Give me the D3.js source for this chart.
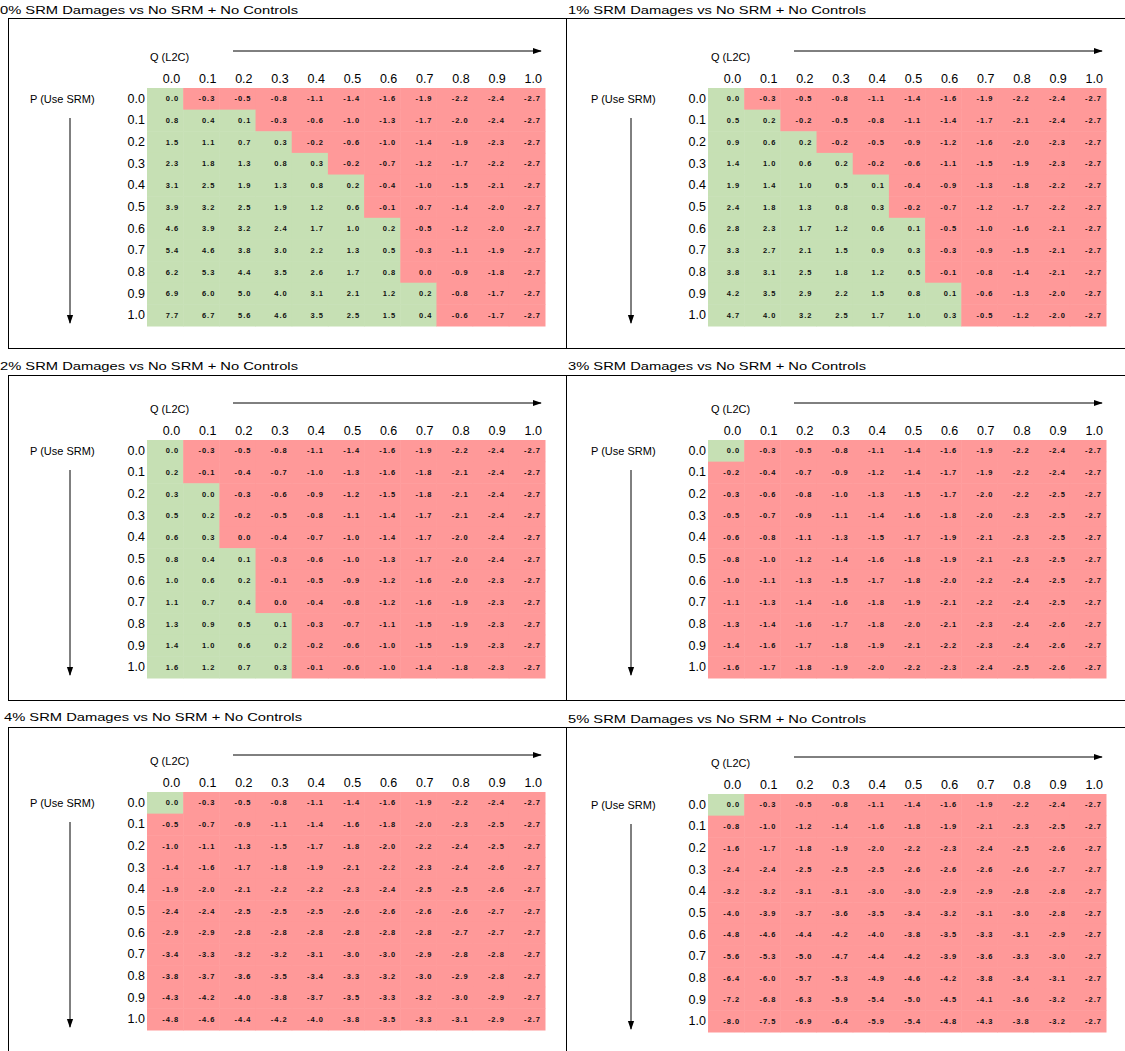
<!DOCTYPE html>
<html><head><meta charset="utf-8">
<script src="https://cdn.jsdelivr.net/npm/d3@7"></script>
<style>
html,body{margin:0;padding:0;background:#fff;}
svg text{font-family:"Liberation Sans",Arial,sans-serif;}
</style></head>
<body><svg id="chart" width="1125" height="1051"></svg>
<script>
// ---- data ----
const qLevels = [0.0,0.1,0.2,0.3,0.4,0.5,0.6,0.7,0.8,0.9,1.0];
const pLevels = [0.0,0.1,0.2,0.3,0.4,0.5,0.6,0.7,0.8,0.9,1.0];
const srmDamages = ["0%","1%","2%","3%","4%","5%"];
const titleSuffix = " SRM Damages vs No SRM + No Controls";
const qLabel = "Q (L2C)";
const pLabel = "P (Use SRM)";

const values0 = [
 [0.0,-0.3,-0.5,-0.8,-1.1,-1.4,-1.6,-1.9,-2.2,-2.4,-2.7],
 [0.8,0.4,0.1,-0.3,-0.6,-1.0,-1.3,-1.7,-2.0,-2.4,-2.7],
 [1.5,1.1,0.7,0.3,-0.2,-0.6,-1.0,-1.4,-1.9,-2.3,-2.7],
 [2.3,1.8,1.3,0.8,0.3,-0.2,-0.7,-1.2,-1.7,-2.2,-2.7],
 [3.1,2.5,1.9,1.3,0.8,0.2,-0.4,-1.0,-1.5,-2.1,-2.7],
 [3.9,3.2,2.5,1.9,1.2,0.6,-0.1,-0.7,-1.4,-2.0,-2.7],
 [4.6,3.9,3.2,2.4,1.7,1.0,0.2,-0.5,-1.2,-2.0,-2.7],
 [5.4,4.6,3.8,3.0,2.2,1.3,0.5,-0.3,-1.1,-1.9,-2.7],
 [6.2,5.3,4.4,3.5,2.6,1.7,0.8,-0.02,-0.9,-1.8,-2.7],
 [6.9,6.0,5.0,4.0,3.1,2.1,1.2,0.2,-0.8,-1.7,-2.7],
 [7.7,6.7,5.6,4.6,3.5,2.5,1.5,0.4,-0.6,-1.7,-2.7]
];
const values1 = [
 [0.0,-0.3,-0.5,-0.8,-1.1,-1.4,-1.6,-1.9,-2.2,-2.4,-2.7],
 [0.5,0.2,-0.2,-0.5,-0.8,-1.1,-1.4,-1.7,-2.1,-2.4,-2.7],
 [0.9,0.6,0.2,-0.2,-0.5,-0.9,-1.2,-1.6,-2.0,-2.3,-2.7],
 [1.4,1.0,0.6,0.2,-0.2,-0.6,-1.1,-1.5,-1.9,-2.3,-2.7],
 [1.9,1.4,1.0,0.5,0.1,-0.4,-0.9,-1.3,-1.8,-2.2,-2.7],
 [2.4,1.8,1.3,0.8,0.3,-0.2,-0.7,-1.2,-1.7,-2.2,-2.7],
 [2.8,2.3,1.7,1.2,0.6,0.1,-0.5,-1.0,-1.6,-2.1,-2.7],
 [3.3,2.7,2.1,1.5,0.9,0.3,-0.3,-0.9,-1.5,-2.1,-2.7],
 [3.8,3.1,2.5,1.8,1.2,0.5,-0.1,-0.8,-1.4,-2.1,-2.7],
 [4.2,3.5,2.9,2.2,1.5,0.8,0.1,-0.6,-1.3,-2.0,-2.7],
 [4.7,4.0,3.2,2.5,1.7,1.0,0.3,-0.5,-1.2,-2.0,-2.7]
];
const values2 = [
 [0.0,-0.3,-0.5,-0.8,-1.1,-1.4,-1.6,-1.9,-2.2,-2.4,-2.7],
 [0.2,-0.1,-0.4,-0.7,-1.0,-1.3,-1.6,-1.8,-2.1,-2.4,-2.7],
 [0.3,0.02,-0.3,-0.6,-0.9,-1.2,-1.5,-1.8,-2.1,-2.4,-2.7],
 [0.5,0.2,-0.2,-0.5,-0.8,-1.1,-1.4,-1.7,-2.1,-2.4,-2.7],
 [0.6,0.3,-0.02,-0.4,-0.7,-1.0,-1.4,-1.7,-2.0,-2.4,-2.7],
 [0.8,0.4,0.1,-0.3,-0.6,-1.0,-1.3,-1.7,-2.0,-2.4,-2.7],
 [1.0,0.6,0.2,-0.1,-0.5,-0.9,-1.2,-1.6,-2.0,-2.3,-2.7],
 [1.1,0.7,0.4,-0.02,-0.4,-0.8,-1.2,-1.6,-1.9,-2.3,-2.7],
 [1.3,0.9,0.5,0.1,-0.3,-0.7,-1.1,-1.5,-1.9,-2.3,-2.7],
 [1.4,1.0,0.6,0.2,-0.2,-0.6,-1.0,-1.5,-1.9,-2.3,-2.7],
 [1.6,1.2,0.7,0.3,-0.1,-0.6,-1.0,-1.4,-1.8,-2.3,-2.7]
];
const values3 = [
 [0.0,-0.3,-0.5,-0.8,-1.1,-1.4,-1.6,-1.9,-2.2,-2.4,-2.7],
 [-0.2,-0.4,-0.7,-0.9,-1.2,-1.4,-1.7,-1.9,-2.2,-2.4,-2.7],
 [-0.3,-0.6,-0.8,-1.0,-1.3,-1.5,-1.7,-2.0,-2.2,-2.5,-2.7],
 [-0.5,-0.7,-0.9,-1.1,-1.4,-1.6,-1.8,-2.0,-2.3,-2.5,-2.7],
 [-0.6,-0.8,-1.1,-1.3,-1.5,-1.7,-1.9,-2.1,-2.3,-2.5,-2.7],
 [-0.8,-1.0,-1.2,-1.4,-1.6,-1.8,-1.9,-2.1,-2.3,-2.5,-2.7],
 [-1.0,-1.1,-1.3,-1.5,-1.7,-1.8,-2.0,-2.2,-2.4,-2.5,-2.7],
 [-1.1,-1.3,-1.4,-1.6,-1.8,-1.9,-2.1,-2.2,-2.4,-2.5,-2.7],
 [-1.3,-1.4,-1.6,-1.7,-1.8,-2.0,-2.1,-2.3,-2.4,-2.6,-2.7],
 [-1.4,-1.6,-1.7,-1.8,-1.9,-2.1,-2.2,-2.3,-2.4,-2.6,-2.7],
 [-1.6,-1.7,-1.8,-1.9,-2.0,-2.2,-2.3,-2.4,-2.5,-2.6,-2.7]
];
const values4 = [
 [0.0,-0.3,-0.5,-0.8,-1.1,-1.4,-1.6,-1.9,-2.2,-2.4,-2.7],
 [-0.5,-0.7,-0.9,-1.1,-1.4,-1.6,-1.8,-2.0,-2.3,-2.5,-2.7],
 [-1.0,-1.1,-1.3,-1.5,-1.7,-1.8,-2.0,-2.2,-2.4,-2.5,-2.7],
 [-1.4,-1.6,-1.7,-1.8,-1.9,-2.1,-2.2,-2.3,-2.4,-2.6,-2.7],
 [-1.9,-2.0,-2.1,-2.2,-2.2,-2.3,-2.4,-2.5,-2.5,-2.6,-2.7],
 [-2.4,-2.4,-2.5,-2.5,-2.5,-2.6,-2.6,-2.6,-2.6,-2.7,-2.7],
 [-2.9,-2.9,-2.8,-2.8,-2.8,-2.8,-2.8,-2.8,-2.7,-2.7,-2.7],
 [-3.4,-3.3,-3.2,-3.2,-3.1,-3.0,-3.0,-2.9,-2.8,-2.8,-2.7],
 [-3.8,-3.7,-3.6,-3.5,-3.4,-3.3,-3.2,-3.0,-2.9,-2.8,-2.7],
 [-4.3,-4.2,-4.0,-3.8,-3.7,-3.5,-3.3,-3.2,-3.0,-2.9,-2.7],
 [-4.8,-4.6,-4.4,-4.2,-4.0,-3.8,-3.5,-3.3,-3.1,-2.9,-2.7]
];
const values5 = [
 [0.0,-0.3,-0.5,-0.8,-1.1,-1.4,-1.6,-1.9,-2.2,-2.4,-2.7],
 [-0.8,-1.0,-1.2,-1.4,-1.6,-1.8,-1.9,-2.1,-2.3,-2.5,-2.7],
 [-1.6,-1.7,-1.8,-1.9,-2.0,-2.2,-2.3,-2.4,-2.5,-2.6,-2.7],
 [-2.4,-2.4,-2.5,-2.5,-2.5,-2.6,-2.6,-2.6,-2.6,-2.7,-2.7],
 [-3.2,-3.2,-3.1,-3.1,-3.0,-3.0,-2.9,-2.9,-2.8,-2.8,-2.7],
 [-4.0,-3.9,-3.7,-3.6,-3.5,-3.4,-3.2,-3.1,-3.0,-2.8,-2.7],
 [-4.8,-4.6,-4.4,-4.2,-4.0,-3.8,-3.5,-3.3,-3.1,-2.9,-2.7],
 [-5.6,-5.3,-5.0,-4.7,-4.4,-4.2,-3.9,-3.6,-3.3,-3.0,-2.7],
 [-6.4,-6.0,-5.7,-5.3,-4.9,-4.6,-4.2,-3.8,-3.4,-3.1,-2.7],
 [-7.2,-6.8,-6.3,-5.9,-5.4,-5.0,-4.5,-4.1,-3.6,-3.2,-2.7],
 [-8.0,-7.5,-6.9,-6.4,-5.9,-5.4,-4.8,-4.3,-3.8,-3.2,-2.7]
];
const panelValues = [values0, values1, values2, values3, values4, values5];

// ---- layout ----
const GREEN = "#c6e0b4", RED = "#ff9999";
const panelLayout = [
  {gx:147, gy:88,  tx:0,   ty:10},
  {gx:708, gy:88,  tx:568, ty:10},
  {gx:147, gy:440, tx:0,   ty:366},
  {gx:708, gy:440, tx:568, ty:366},
  {gx:147, gy:792, tx:4,   ty:717},
  {gx:708, gy:794, tx:568, ty:719}
];
const GW = 398, GH = 238;

const svg = d3.select("#chart");
const fmt = d3.formatLocale({decimal:".", thousands:",", grouping:[3], currency:["",""], minus:"-"}).format(".1f");

// boxes
const boxes = [
  {x:8, y:18, w:558, h:330},{x:566, y:18, w:560, h:330},
  {x:8, y:375, w:558, h:325},{x:566, y:375, w:560, h:325},
  {x:8, y:727, w:558, h:330},{x:566, y:727, w:560, h:330}
];
svg.append("g").selectAll("rect").data(boxes).join("rect")
  .attr("x", d=>d.x+0.5).attr("y", d=>d.y+0.5).attr("width", d=>d.w).attr("height", d=>d.h)
  .attr("fill","none").attr("stroke","#000").attr("stroke-width",1);

const defs = svg.append("defs");
defs.append("marker").attr("id","arr").attr("viewBox","0 0 10 10").attr("refX",9).attr("refY",5)
  .attr("markerWidth",9).attr("markerHeight",9).attr("orient","auto")
  .append("path").attr("d","M0,1.5 L10,5 L0,8.5 Z").attr("fill","#000");

panelValues.forEach((vals, i) => {
  const L = panelLayout[i];
  const g = svg.append("g");
  const x = d3.scaleBand().domain(qLevels).range([L.gx, L.gx+GW]).padding(0);
  const y = d3.scaleBand().domain(pLevels).range([L.gy, L.gy+GH]).padding(0);

  // title
  g.append("text").attr("x", L.tx).attr("y", L.ty).attr("dy","0.35em")
    .attr("font-size", 11.5).attr("textLength", 298).attr("lengthAdjust","spacingAndGlyphs")
    .text(srmDamages[i] + titleSuffix);

  const cells = [];
  vals.forEach((row, r) => row.forEach((v, c) => cells.push({p:pLevels[r], q:qLevels[c], v})));

  g.append("g").selectAll("rect").data(cells).join("rect")
    .attr("x", d=>x(d.q)).attr("y", d=>y(d.p))
    .attr("width", x.bandwidth()+0.5).attr("height", y.bandwidth()+0.5)
    .attr("fill", d=> d.v >= 0 ? GREEN : RED);

  g.append("g").selectAll("text").data(cells).join("text")
    .attr("x", d=>x(d.q)+x.bandwidth()-4).attr("y", d=>y(d.p)+y.bandwidth()/2).attr("dy","0.35em")
    .attr("text-anchor","end").attr("font-size", 7.5).attr("font-weight","bold")
    .attr("letter-spacing", 1).attr("fill","#111")
    .text(d=>fmt(d.v));

  // column header axis
  const xAxis = d3.axisTop(x).tickSize(0).tickPadding(0).tickFormat(d=>fmt(d));
  const xa = g.append("g").attr("transform", `translate(0,${L.gy-5})`).call(xAxis);
  xa.select(".domain").remove();
  xa.selectAll("text").attr("font-size", 12.5).attr("fill","#000")
    .attr("text-anchor","end").attr("x", x.bandwidth()/2-3)
    .style("font-family", "'Liberation Sans',Arial,sans-serif");

  // row header axis
  const yAxis = d3.axisLeft(y).tickSize(0).tickPadding(2).tickFormat(d=>fmt(d));
  const ya = g.append("g").attr("transform", `translate(${L.gx},0)`).call(yAxis);
  ya.select(".domain").remove();
  ya.selectAll("text").attr("font-size", 12.5).attr("fill","#000")
    .style("font-family", "'Liberation Sans',Arial,sans-serif");

  // Q label and arrow
  g.append("text").attr("x", L.gx+3).attr("y", L.gy-31).attr("dy","0.35em")
    .attr("font-size", 11).text(qLabel);
  g.append("line").attr("x1", L.gx+86).attr("x2", L.gx+GW-4)
    .attr("y1", L.gy-37).attr("y2", L.gy-37).attr("stroke","#000").attr("stroke-width",1)
    .attr("marker-end","url(#arr)");

  // P label and arrow
  g.append("text").attr("x", L.gx-117).attr("y", y(0)+y.bandwidth()/2).attr("dy","0.35em")
    .attr("font-size", 11).text(pLabel);
  g.append("line").attr("x1", L.gx-77).attr("x2", L.gx-77)
    .attr("y1", L.gy+30).attr("y2", L.gy+GH-3).attr("stroke","#000").attr("stroke-width",1)
    .attr("marker-end","url(#arr)");
});
</script></body></html>
